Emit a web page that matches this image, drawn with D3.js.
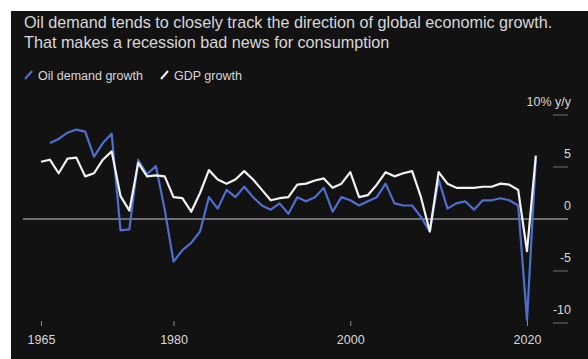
<!DOCTYPE html>
<html><head><meta charset="utf-8">
<script src="https://cdn.jsdelivr.net/npm/d3@7"></script>
<style>
html,body{margin:0;padding:0;background:#fff;}
svg{display:block;}
text{font-family:"Liberation Sans",Arial,Helvetica,sans-serif;}
</style></head>
<body>
<svg id="chart" width="588" height="359"></svg>
<script>
const years = [1965,1966,1967,1968,1969,1970,1971,1972,1973,1974,1975,1976,1977,1978,1979,
  1980,1981,1982,1983,1984,1985,1986,1987,1988,1989,1990,1991,1992,1993,1994,1995,1996,1997,1998,1999,
  2000,2001,2002,2003,2004,2005,2006,2007,2008,2009,2010,2011,2012,2013,2014,2015,2016,2017,2018,2019,2020,2021];
const gdpGrowth = [5.5,5.7,4.4,5.8,5.9,4.1,4.4,5.7,6.5,2.2,0.8,5.4,4.1,4.2,4.1,
  2.1,2.0,0.7,2.5,4.7,3.8,3.4,3.8,4.6,3.8,2.8,1.8,2.0,2.1,3.3,3.4,3.7,3.9,3.0,3.4,
  4.5,2.1,2.3,3.3,4.5,4.1,4.4,4.6,2.1,-1.2,4.5,3.4,3.0,3.0,3.0,3.1,3.1,3.4,3.3,2.8,-3.1,6.1];
const oilGrowth = [null,7.3,7.7,8.3,8.6,8.4,6.0,7.3,8.2,-1.1,-1.0,5.7,4.3,5.1,0.9,
  -4.1,-3.0,-2.3,-1.2,2.1,1.0,2.8,2.1,3.1,2.1,1.3,0.9,1.5,0.5,2.1,1.7,2.1,3.0,0.7,2.1,
  1.8,1.3,1.7,2.1,3.4,1.5,1.3,1.3,0.2,-1.2,3.8,1.0,1.5,1.7,0.9,1.8,1.8,2.0,1.8,1.3,-9.7,5.8];
const xTicks = [1965,1980,2000,2020];
const yTicks = [10,5,0,-5,-10];
const yTickLabels = ["10% y/y","5","0","-5","-10"];
const titleLines = ["Oil demand tends to closely track the direction of global economic growth.",
  "That makes a recession bad news for consumption"];
const seriesNames = ["Oil demand growth","GDP growth"];

const svg = d3.select("#chart");
const W = 588, H = 359;
const bg = "#121212", blue = "#4f6fcf", white = "#f2f2f2", textCol = "#d8d8d8";

svg.append("rect").attr("x",11).attr("y",11).attr("width",W-11).attr("height",H-11).attr("fill",bg);

const x = d3.scaleLinear().domain([1965,2020]).range([41,527]);
const y = d3.scaleLinear().domain([-10,10]).range([323,115]);

// title
svg.selectAll("text.title").data(titleLines).join("text")
  .attr("class","title").attr("x",24).attr("y",(d,i)=>28+i*20)
  .attr("fill",textCol).attr("font-size",16.2).text(d=>d);

// legend
const leg = svg.append("g").attr("transform","translate(25,75)");
const legItems = [{name:seriesNames[0],col:blue,x:0},{name:seriesNames[1],col:white,x:136}];
legItems.forEach(it=>{
  leg.append("line").attr("x1",it.x).attr("y1",4).attr("x2",it.x+7).attr("y2",-4)
    .attr("stroke",it.col).attr("stroke-width",2);
  leg.append("text").attr("x",it.x+13).attr("y",4.5).attr("fill",textCol)
    .attr("font-size",12.5).text(it.name);
});

// y grid: zero line, short ticks elsewhere
yTicks.forEach((t,i)=>{
  if(t===0){
    svg.append("line").attr("x1",23).attr("x2",568).attr("y1",y(t)).attr("y2",y(t))
      .attr("stroke","#6e6e6e").attr("stroke-width",2);
  } else {
    svg.append("line").attr("x1",553).attr("x2",568).attr("y1",y(t)).attr("y2",y(t))
      .attr("stroke","#6e6e6e").attr("stroke-width",1);
  }
  svg.append("text").attr("x",571).attr("y",y(t)-9).attr("text-anchor","end")
    .attr("fill",textCol).attr("font-size",12.5).text(yTickLabels[i]);
});

// x axis
const xAxis = d3.axisBottom(x).tickValues(xTicks).tickFormat(d3.format("d")).tickSize(5).tickPadding(9);
const gx = svg.append("g").attr("transform","translate(0,321)").call(xAxis);
gx.select(".domain").remove();
gx.selectAll(".tick line").attr("stroke","#888");
gx.selectAll(".tick text").attr("fill",textCol).attr("font-size",12.5)
  .attr("font-family","\"Liberation Sans\",Arial,sans-serif");

// lines
const line = d3.line().defined(d=>d.v!==null).x(d=>x(d.yr)).y(d=>y(d.v));
const oilData = years.map((yr,i)=>({yr, v:oilGrowth[i]}));
const gdpData = years.map((yr,i)=>({yr, v:gdpGrowth[i]}));
svg.append("path").datum(oilData).attr("d",line).attr("fill","none")
  .attr("stroke",blue).attr("stroke-width",2.2).attr("stroke-linejoin","round");
svg.append("path").datum(gdpData).attr("d",line).attr("fill","none")
  .attr("stroke",white).attr("stroke-width",2.2).attr("stroke-linejoin","round");
</script>
</body></html>
